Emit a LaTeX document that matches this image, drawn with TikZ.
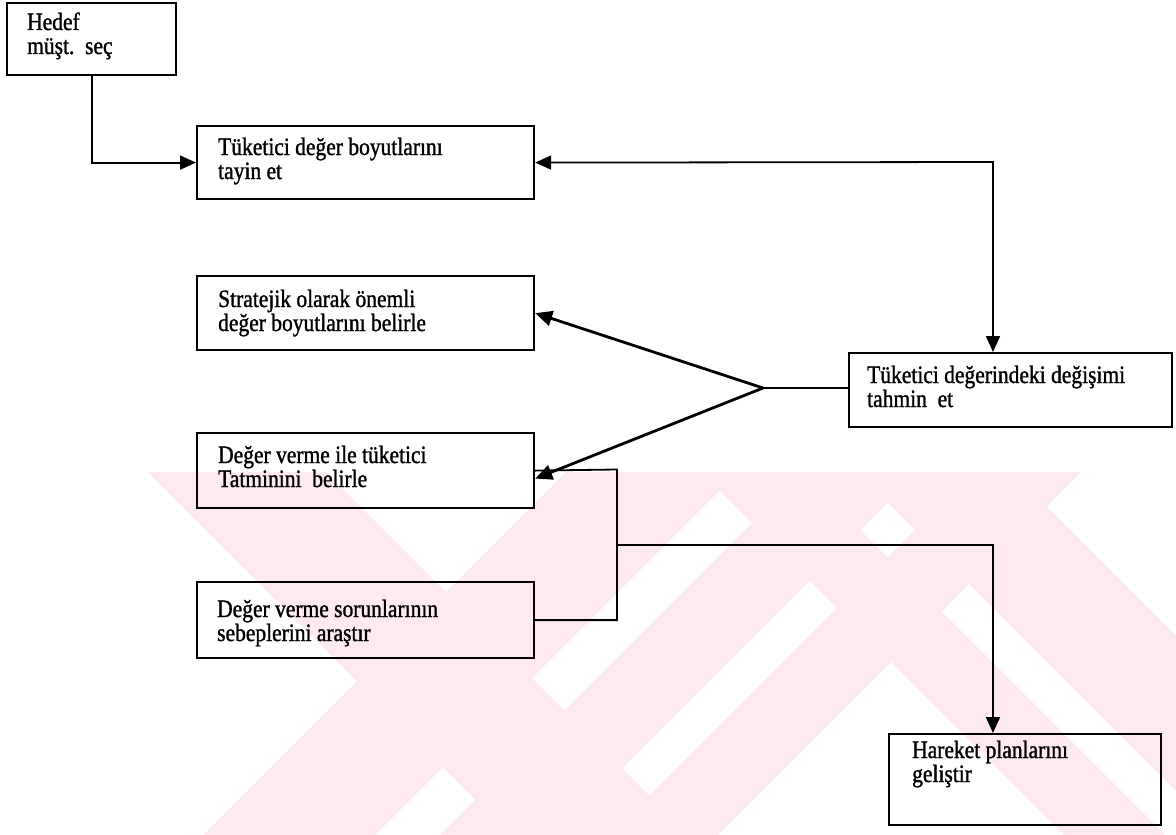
\documentclass[tikz,border=0pt]{standalone}
\usepackage{fontspec}
\setmainfont{Liberation Serif}[FakeStretch=0.86,FakeBold=1.2]
\usetikzlibrary{arrows.meta,calc}
\definecolor{wm}{RGB}{253,234,238}
\tikzset{
  box/.style={draw=black, line width=2.2pt, rectangle, inner sep=0pt, anchor=north west},
  txt/.style={anchor=base west, inner sep=0pt, font=\fontsize{25}{24}\selectfont},
  conn/.style={draw=black, line width=1.8pt},
  arr/.style={conn, -{Triangle[length=16pt,width=14pt]}},
  arrb/.style={conn, {Triangle[length=16pt,width=14pt]}-{Triangle[length=16pt,width=14pt]}},
  thick arr/.style={draw=black, line width=2.8pt, -{Triangle[length=17pt,width=15pt]}},
}
\begin{document}
\begin{tikzpicture}[x=1pt,y=-1pt]
\useasboundingbox (0,0) rectangle (1176,835);
\fill[white] (0,0) rectangle (1176,835);
% watermark (faint diagonal bands)
\begin{scope}
\clip (148,472) rectangle (1176,835);
\fill[wm] (148,472) -- (326,472) -- (689,835) -- (511,835) -- cycle;
\fill[wm] (566,472) -- (738,472) -- (375,835) -- (203,835) -- cycle;
\fill[wm] (803,472) -- (918,472) -- (555,835) -- (440,835) -- cycle;
\fill[wm] (973,472) -- (1081,472) -- (718,835) -- (610,835) -- cycle;
\fill[wm] (701,472) -- (802,472) -- (1165,835) -- (1064,835) -- cycle;
\fill[wm] (857,472) -- (1012,472) -- (1375,835) -- (1220,835) -- cycle;
\end{scope}
% boxes
\node[box, minimum width=169pt, minimum height=72pt] (h) at (6,2) {};
\node[box, minimum width=337pt, minimum height=73pt] (b2) at (196,125) {};
\node[box, minimum width=337pt, minimum height=74pt] (b3) at (196,275) {};
\node[box, minimum width=337pt, minimum height=75pt] (b4) at (196,432) {};
\node[box, minimum width=323pt, minimum height=74pt] (b5) at (848,352) {};
\node[box, minimum width=337pt, minimum height=76pt] (b6) at (196,581) {};
\node[box, minimum width=272pt, minimum height=91pt] (b7) at (888,733) {};
% texts
\node[txt] (th) at (27,30) {\parbox[t]{150pt}{Hedef\\müşt.\ \ seç}};
\node[txt] (t2) at (218,155) {\parbox[t]{310pt}{Tüketici değer boyutlarını\\tayin et}};
\node[txt] (t3) at (218,307) {\parbox[t]{310pt}{Stratejik olarak önemli\\değer boyutlarını belirle}};
\node[txt] (t4) at (218,463) {\parbox[t]{310pt}{Değer verme ile tüketici\\Tatminini\ \ belirle}};
\node[txt] (t5) at (867,383) {\parbox[t]{300pt}{Tüketici değerindeki değişimi\\tahmin\ \ et}};
\node[txt] (t6) at (217,617) {\parbox[t]{310pt}{Değer verme sorunlarının\\sebeplerini araştır}};
\node[txt] (t7) at (912,758) {\parbox[t]{240pt}{Hareket planlarını\\geliştir}};
% connectors
\coordinate (c1) at (993,162);
\coordinate (j) at (763,388);
\coordinate (k1) at (617,469.5);
\coordinate (k2) at (617,545);
\coordinate (k3) at (993,545);
\draw[arr] (h.south) |- (b2.west);
\draw[arrb] (b2.east) -- (c1) -- (c1 |- b5.north);
\draw[conn] (b5.west |- j) -- (j);
\draw[thick arr] (j) -- (b3.east);
\draw[thick arr] (j) -- ($(b4.east)+(0,8)$);
\draw[conn] (b4.east) -- (k1) -- (k1 |- b6.east) -- (b6.east);
\draw[arr] (k2) -- (k3) -- (k3 |- b7.north);
\end{tikzpicture}
\end{document}
